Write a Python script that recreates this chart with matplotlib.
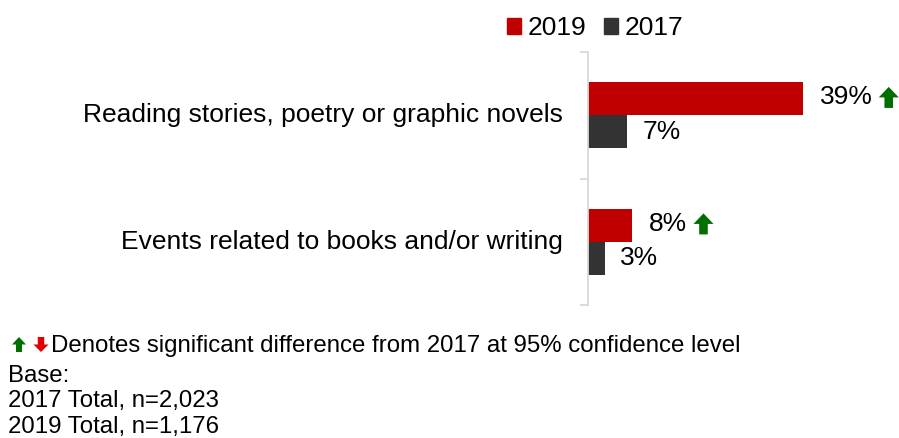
import matplotlib
matplotlib.use("Agg")
import matplotlib.pyplot as plt
from matplotlib.patches import Patch, Polygon

plt.rcParams["font.family"] = ["Liberation Sans", "DejaVu Sans"]

categories = ["Reading stories, poetry or graphic novels",
              "Events related to books and/or writing"]
values_2019 = [39, 8]
values_2017 = [7, 3]
sig_up_2019 = [True, True]
series_names = ["2019", "2017"]
footnote_lines = ["Denotes significant difference from 2017 at 95% confidence level",
                  "Base:",
                  "2017 Total, n=2,023",
                  "2019 Total, n=1,176"]

RED = "#C00000"
DARK = "#333333"
GREEN = "#006E00"
ARROW_RED = "#E00000"
GRID = "#D9D9D9"
FS = 19
FS_NOTE = 17.3

W, H = 899, 438
fig = plt.figure(figsize=(W / 100, H / 100), dpi=100)

# axes box in pixel terms
left, right, top, bottom = 588, 863, 52, 305
ax = fig.add_axes([left / W, 1 - bottom / H, (right - left) / W, (bottom - top) / H])

bar_h = 0.26
ypos = list(range(len(categories)))
ax.barh([y - bar_h / 2 for y in ypos], values_2019, height=bar_h, color=RED)
ax.barh([y + bar_h / 2 for y in ypos], values_2017, height=bar_h, color=DARK)

ax.set_xlim(0, 50)
ax.set_ylim(len(categories) - 0.5, -0.5)

for s in ["top", "right", "bottom"]:
    ax.spines[s].set_visible(False)
ax.spines["left"].set_color(GRID)
ax.spines["left"].set_linewidth(1.3)
ax.set_xticks([])
ax.set_yticks([y - 0.5 for y in range(len(categories) + 1)])
ax.set_yticklabels([])
ax.tick_params(axis="y", length=6, width=1.3, color=GRID)

for y, cat in zip(ypos, categories):
    ax.annotate(cat, xy=(0, y), xycoords=("axes fraction", "data"),
                xytext=(-18, 0), textcoords="offset points",
                ha="right", va="center", fontsize=FS)

labels19 = []
for y, v in zip(ypos, values_2019):
    t = ax.annotate(f"{v}%", xy=(v, y - bar_h / 2), xytext=(12.5, 1),
                    textcoords="offset points", ha="left", va="center",
                    fontsize=FS, annotation_clip=False)
    labels19.append(t)
for y, v in zip(ypos, values_2017):
    ax.annotate(f"{v}%", xy=(v, y + bar_h / 2), xytext=(11.5, 0),
                textcoords="offset points", ha="left", va="center",
                fontsize=FS, annotation_clip=False)

# legend
handles = [Patch(color=RED), Patch(color=DARK)]
fig.legend(handles, series_names, loc="upper center", bbox_to_anchor=(595 / W, 1 - 3 / H),
           ncol=2, frameon=False, fontsize=FS, handlelength=0.55, handleheight=0.55,
           handletextpad=0.25, columnspacing=0.65, borderpad=0)


def block_arrow(cx, ytop, w, h, color, up=True):
    """Block arrow in pixel coordinates (origin top-left)."""
    head = h * 0.5
    sw = w * 0.43
    if up:
        pts = [(cx, ytop), (cx + w / 2, ytop + head), (cx + sw / 2, ytop + head),
               (cx + sw / 2, ytop + h), (cx - sw / 2, ytop + h),
               (cx - sw / 2, ytop + head), (cx - w / 2, ytop + head)]
    else:
        yb = ytop + h
        pts = [(cx, yb), (cx + w / 2, yb - head), (cx + sw / 2, yb - head),
               (cx + sw / 2, ytop), (cx - sw / 2, ytop),
               (cx - sw / 2, yb - head), (cx - w / 2, yb - head)]
    pts = [(x / W, 1 - y / H) for x, y in pts]
    fig.patches.append(Polygon(pts, closed=True, transform=fig.transFigure,
                               facecolor=color, edgecolor="none"))


fig.canvas.draw()
renderer = fig.canvas.get_renderer()
for t, sig in zip(labels19, sig_up_2019):
    if not sig:
        continue
    bb = t.get_window_extent(renderer)
    yc = H - (bb.y0 + bb.y1) / 2
    block_arrow(bb.x1 + 6 + 10, yc - 10.5, 20, 21, GREEN, up=True)

# footnote
block_arrow(19, 337, 14, 15, GREEN, up=True)
block_arrow(41, 337, 15, 15, ARROW_RED, up=False)
fig.text(51 / W, 1 - 352 / H, footnote_lines[0], fontsize=FS_NOTE, va="baseline", ha="left")
for i, line in enumerate(footnote_lines[1:]):
    fig.text(8 / W, 1 - (382 + 25.5 * i) / H, line, fontsize=FS_NOTE, va="baseline", ha="left")

fig.savefig("out.png", dpi=100)
